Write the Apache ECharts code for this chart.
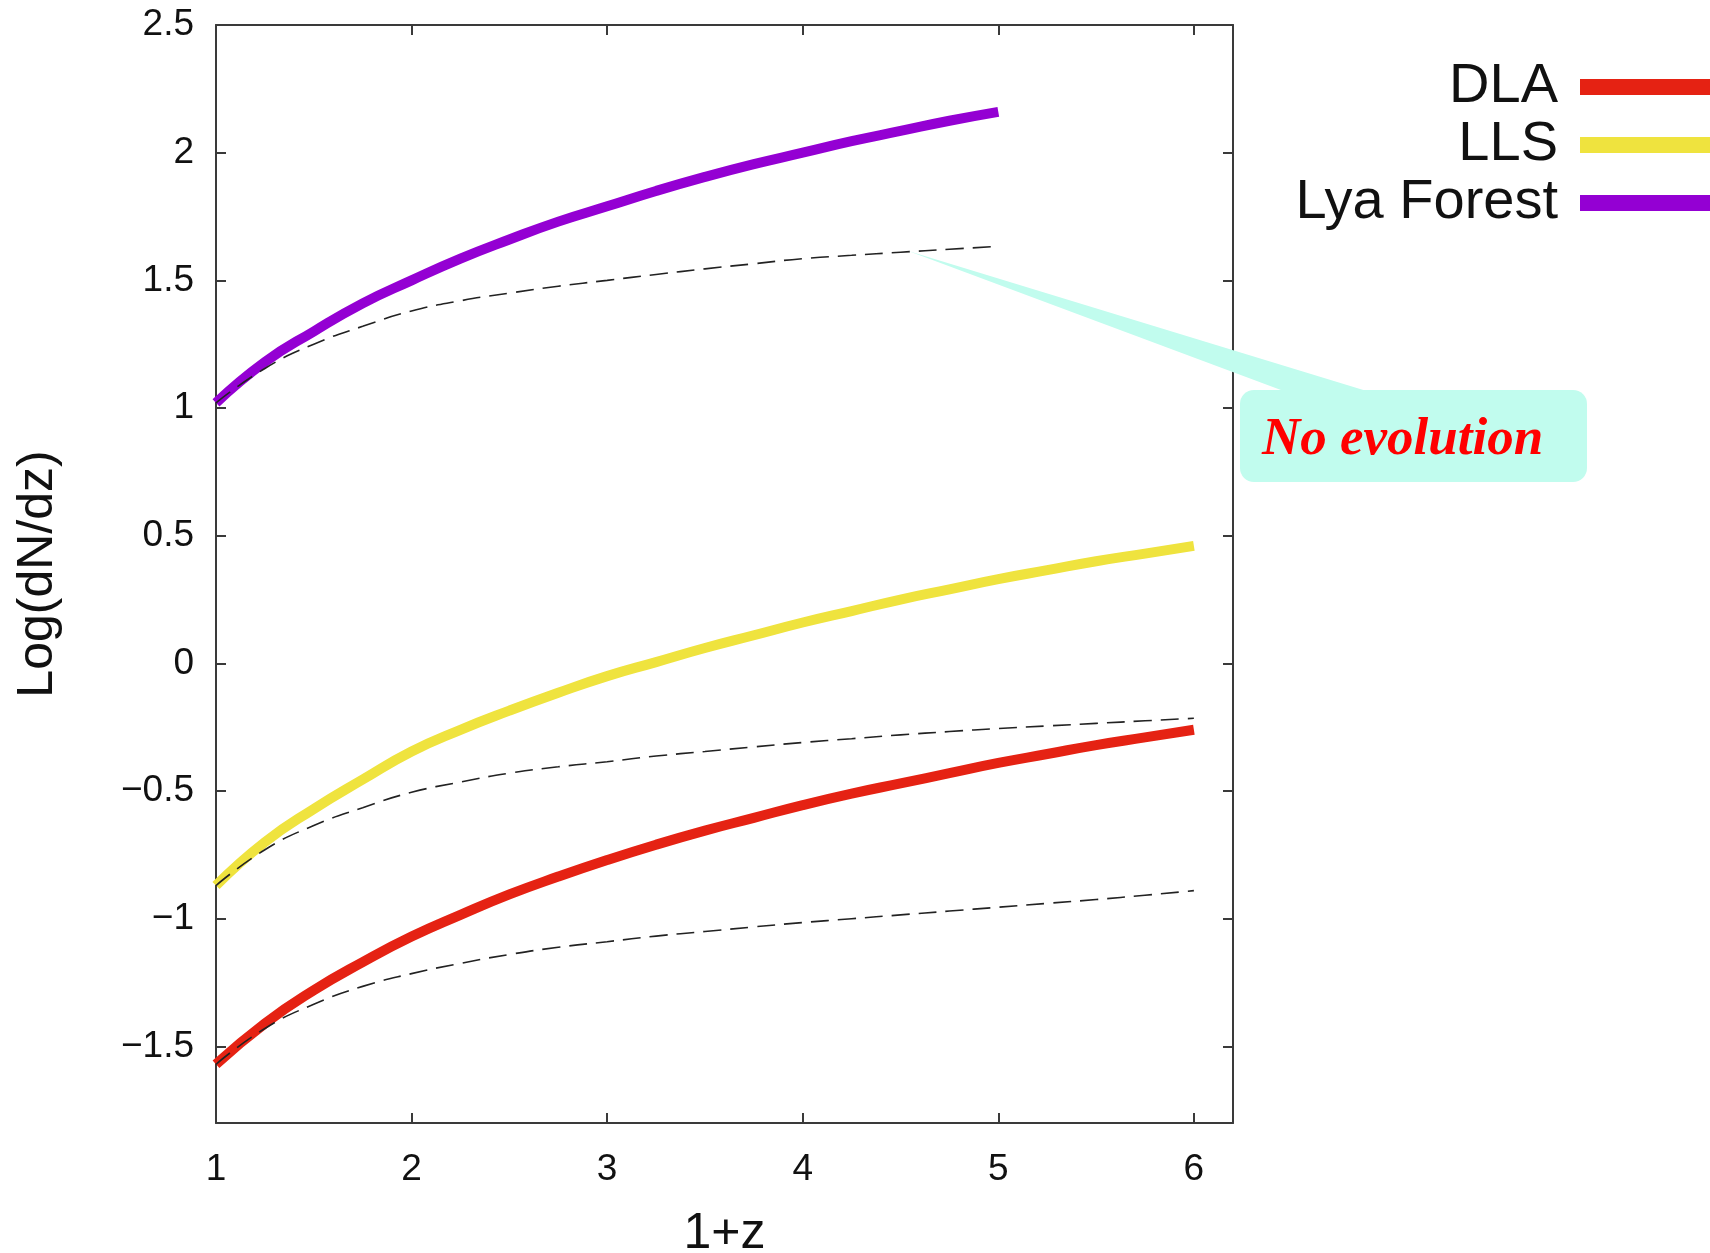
<!DOCTYPE html>
<html>
<head>
<meta charset="utf-8">
<script src="https://cdn.jsdelivr.net/npm/echarts@6/dist/echarts.min.js"></script>
<style>
  html, body { margin: 0; padding: 0; background: #ffffff; }
  #chart { width: 1710px; height: 1253px; }
</style>
</head>
<body>
<div id="chart"></div>
<script>
// 1+z sample points
const onePlusZ = [1, 1.25, 1.5, 1.75, 2, 2.25, 2.5, 2.75, 3, 3.25, 3.5, 3.75, 4, 4.25, 4.5, 4.75, 5, 5.25, 5.5, 5.75, 6];
const onePlusZLya = [1, 1.25, 1.5, 1.75, 2, 2.25, 2.5, 2.75, 3, 3.25, 3.5, 3.75, 4, 4.25, 4.5, 4.75, 5];

// Log(dN/dz) for each absorber class
const dlaValues = [-1.57, -1.41, -1.28, -1.17, -1.07, -0.985, -0.905, -0.835, -0.77, -0.71, -0.655,
                   -0.605, -0.555, -0.51, -0.47, -0.43, -0.39, -0.355, -0.32, -0.29, -0.26];
const llsValues = [-0.87, -0.70, -0.57, -0.455, -0.345, -0.26, -0.185, -0.115, -0.05, 0.005, 0.06,
                   0.11, 0.16, 0.205, 0.25, 0.29, 0.33, 0.365, 0.40, 0.43, 0.46];
const lyaValues = [1.02, 1.18, 1.30, 1.41, 1.50, 1.585, 1.66, 1.73, 1.79, 1.85, 1.905,
                   1.955, 2.00, 2.045, 2.085, 2.125, 2.16];

// no-evolution reference curves
const dlaNoEvo = [-1.57, -1.43, -1.335, -1.265, -1.215, -1.175, -1.14, -1.112, -1.09, -1.068, -1.05,
                  -1.032, -1.015, -1.0, -0.985, -0.97, -0.955, -0.94, -0.925, -0.908, -0.89];
const llsNoEvo = [-0.87, -0.73, -0.635, -0.565, -0.505, -0.465, -0.43, -0.405, -0.385, -0.363, -0.345,
                  -0.327, -0.31, -0.295, -0.28, -0.267, -0.255, -0.245, -0.235, -0.225, -0.215];
const lyaNoEvo = [1.02, 1.155, 1.25, 1.32, 1.38, 1.42, 1.45, 1.477, 1.50, 1.523, 1.545,
                  1.565, 1.585, 1.598, 1.61, 1.622, 1.633];

// axis ticks and labels
const xTicks = [1, 2, 3, 4, 5, 6];
const yTicks = [-1.5, -1, -0.5, 0, 0.5, 1, 1.5, 2, 2.5];
const yTickLabels = ['\u22121.5', '\u22121', '\u22120.5', '0', '0.5', '1', '1.5', '2', '2.5'];

const seriesNames = ['DLA', 'LLS', 'Lya Forest'];
const calloutText = 'No evolution';
const calloutAnchor = [4.54, 1.615];

function pairs(xs, ys) { return ys.map((y, i) => [xs[i], y]); }

const FONT = '"Liberation Sans", Arial, sans-serif';
const AXIS_COLOR = '#3a3a3a';

const chart = echarts.init(document.getElementById('chart'), null, { renderer: 'canvas' });

function yLabel(v) {
  const i = yTicks.findIndex(t => Math.abs(t - v) < 1e-9);
  return i >= 0 ? yTickLabels[i] : '';
}

const boxAxisLine = { show: true, onZero: false, lineStyle: { color: AXIS_COLOR, width: 2 } };
const boxTick = { show: true, inside: true, length: 10, lineStyle: { color: AXIS_COLOR, width: 2 } };

function solid(name, xs, ys, color) {
  return {
    name: name, type: 'line', data: pairs(xs, ys), smooth: 0.5,
    showSymbol: false, symbol: 'none', color: color,
    lineStyle: { color: color, width: 10, cap: 'butt' },
    emphasis: { disabled: true }, silent: true, z: 2
  };
}
function dashed(name, xs, ys) {
  return {
    name: name, type: 'line', data: pairs(xs, ys), smooth: 0.5,
    showSymbol: false, symbol: 'none', color: '#222',
    lineStyle: { color: '#222', width: 1.6, type: [18, 9] },
    emphasis: { disabled: true }, silent: true, z: 3
  };
}

chart.setOption({
  animation: false,
  backgroundColor: '#ffffff',
  grid: { left: 216, top: 25, right: 477, bottom: 130, containLabel: false, outerBoundsMode: 'none' },
  legend: {
    data: seriesNames,
    orient: 'vertical',
    align: 'right',
    right: -20,
    top: 58,
    padding: 0,
    itemGap: 0,
    itemWidth: 150,
    itemHeight: 16,
    icon: 'rect',
    selectedMode: false,
    textStyle: { fontFamily: FONT, fontSize: 56, color: '#111', lineHeight: 58, padding: [0, 17, 0, 0] }
  },
  xAxis: [
    {
      type: 'value', min: 1, max: 6.2, position: 'bottom',
      name: '1+z', nameLocation: 'middle', nameGap: 86,
      nameTextStyle: { fontFamily: FONT, fontSize: 50, color: '#111' },
      axisLine: boxAxisLine,
      axisTick: Object.assign({ customValues: xTicks }, boxTick),
      axisLabel: { customValues: xTicks, margin: 28, fontFamily: FONT, fontSize: 37, color: '#111' },
      splitLine: { show: false }
    },
    {
      type: 'value', min: 1, max: 6.2, position: 'top',
      axisLine: boxAxisLine,
      axisTick: Object.assign({ customValues: xTicks }, boxTick),
      axisLabel: { show: false },
      splitLine: { show: false }
    }
  ],
  yAxis: [
    {
      type: 'value', min: -1.8, max: 2.5, position: 'left',
      name: 'Log(dN/dz)', nameLocation: 'middle', nameRotate: 90, nameGap: 153,
      nameTextStyle: { fontFamily: FONT, fontSize: 50, color: '#111' },
      axisLine: boxAxisLine,
      axisTick: Object.assign({ customValues: yTicks }, boxTick),
      axisLabel: { customValues: yTicks, formatter: yLabel, margin: 22, fontFamily: FONT, fontSize: 37, color: '#111' },
      splitLine: { show: false }
    },
    {
      type: 'value', min: -1.8, max: 2.5, position: 'right',
      axisLine: boxAxisLine,
      axisTick: Object.assign({ customValues: yTicks }, boxTick),
      axisLabel: { show: false },
      splitLine: { show: false }
    }
  ],
  series: [
    solid('DLA', onePlusZ, dlaValues, '#e52213'),
    solid('LLS', onePlusZ, llsValues, '#efe33e'),
    solid('Lya Forest', onePlusZLya, lyaValues, '#9400d3'),
    dashed('DLA no evolution', onePlusZ, dlaNoEvo),
    dashed('LLS no evolution', onePlusZ, llsNoEvo),
    dashed('Lya Forest no evolution', onePlusZLya, lyaNoEvo)
  ]
});

// speech-bubble annotation pointing at the no-evolution curve
const tip = chart.convertToPixel({ gridIndex: 0 }, calloutAnchor);
const box = { x: 1240, y: 390, w: 347, h: 92 };
chart.setOption({
  graphic: [
    {
      type: 'polygon', silent: true, z: 10,
      shape: { points: [[tip[0], tip[1]], [1297, box.y + 6], [1383, box.y + 6]] },
      style: { fill: '#c1fcee' }
    },
    {
      type: 'rect', silent: true, z: 10,
      shape: { x: box.x, y: box.y, width: box.w, height: box.h, r: 14 },
      style: { fill: '#c1fcee' }
    },
    {
      type: 'text', silent: true, z: 11,
      x: 1262, y: 440,
      style: {
        text: calloutText, fill: '#ff0000',
        font: 'italic bold 53px "Liberation Serif", "Times New Roman", serif',
        align: 'left', verticalAlign: 'middle'
      }
    }
  ]
});
</script>
</body>
</html>
